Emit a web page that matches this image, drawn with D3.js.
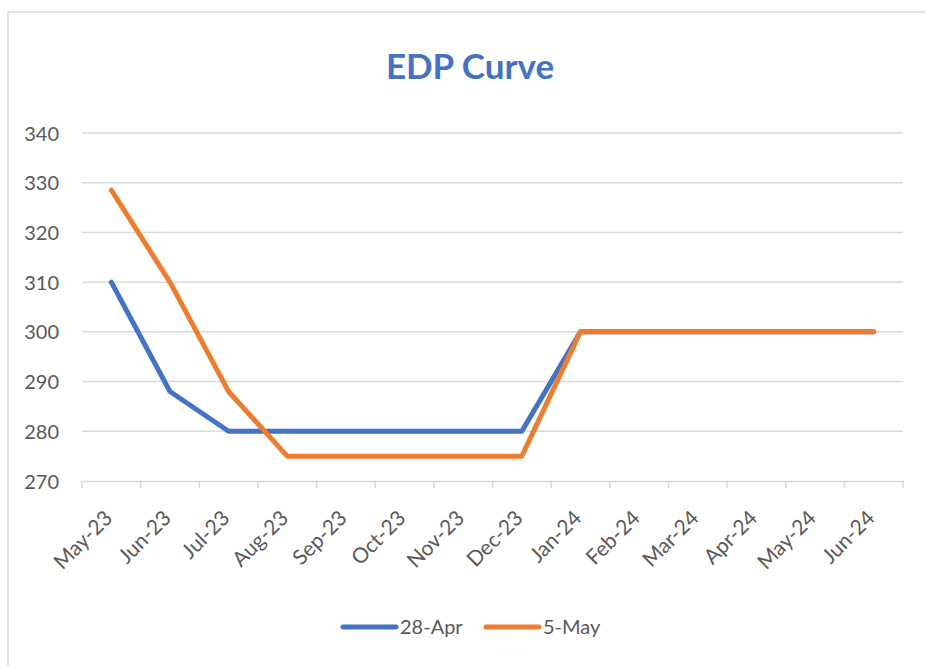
<!DOCTYPE html>
<html>
<head>
<meta charset="utf-8">
<script src="https://cdn.jsdelivr.net/npm/d3@7"></script>
<style>
  body { margin: 0; background: #fff; }
  svg { display: block; font-family: Lato, "Open Sans", sans-serif; }
  .grid line { stroke: #d9d9d9; stroke-width: 1.5; }
  .tick text { fill: #595959; font-family: Lato, "Open Sans", sans-serif; }
</style>
</head>
<body>
<div id="chart"></div>
<script>
// months on the x axis
const months = ["May-23", "Jun-23", "Jul-23", "Aug-23", "Sep-23", "Oct-23", "Nov-23",
                "Dec-23", "Jan-24", "Feb-24", "Mar-24", "Apr-24", "May-24", "Jun-24"];
// the two curves
const apr28 = [310, 288, 280, 280, 280, 280, 280, 280, 300, 300, 300, 300, 300, 300];
const may5 = [328.5, 310, 288, 275, 275, 275, 275, 275, 300, 300, 300, 300, 300, 300];
const seriesNames = ["28-Apr", "5-May"];
const seriesColors = ["#4472C4", "#ED7D31"];
const yTicks = [270, 280, 290, 300, 310, 320, 330, 340];

const width = 925, height = 666;
const margin = {top: 133, right: 22, bottom: 185, left: 82};

const svg = d3.select("#chart").append("svg")
    .attr("width", width)
    .attr("height", height);

// chart frame (cropped on right and bottom in the picture)
svg.append("rect")
    .attr("x", 8).attr("y", 12)
    .attr("width", 940).attr("height", 700)
    .attr("fill", "#fff")
    .attr("stroke", "#d9d9d9")
    .attr("stroke-width", 1.5);

let x = d3.scaleBand()
    .domain(months)
    .range([margin.left, width - margin.right]);

let y = d3.scaleLinear()
    .domain([270, 340])
    .range([height - margin.bottom, margin.top]);

// title
svg.append("text")
    .attr("x", 470).attr("y", 79)
    .attr("text-anchor", "middle")
    .attr("fill", "#4472C4")
    .style("font-size", "35px")
    .style("font-weight", "bold")
    .text("EDP Curve");

// horizontal gridlines
svg.append("g")
    .attr("class", "grid")
    .selectAll("line")
    .data(yTicks.slice(1))
    .enter().append("line")
    .attr("x1", margin.left).attr("x2", width - margin.right)
    .attr("y1", d => y(d)).attr("y2", d => y(d));

// y axis labels (no axis line)
let yAxis = svg.append("g")
    .attr("transform", `translate(${margin.left},0)`)
    .call(d3.axisLeft(y).tickValues(yTicks).tickSize(0).tickPadding(23));
yAxis.select(".domain").remove();
yAxis.selectAll("text").style("font-size", "20px").attr("dy", "0.35em");

// x axis with ticks between categories
let xAxis = svg.append("g")
    .attr("transform", `translate(0,${y(270)})`)
    .call(d3.axisBottom(x).tickSize(0));
xAxis.select(".domain")
    .attr("stroke", "#d9d9d9").attr("stroke-width", 1.5);
let bounds = months.map(m => x(m)).concat([x.range()[1]]);
xAxis.selectAll(".sep")
    .data(bounds)
    .enter().append("line")
    .attr("class", "sep")
    .attr("x1", d => d).attr("x2", d => d)
    .attr("y1", 0).attr("y2", 7)
    .attr("stroke", "#d9d9d9").attr("stroke-width", 1.5);
xAxis.selectAll(".tick text")
    .style("font-size", "21px")
    .attr("text-anchor", "end")
    .attr("dy", "0.35em")
    .attr("transform", "translate(-5,31) rotate(-45)");

// lines
let line = d3.line()
    .x((d, i) => x(months[i]) + x.bandwidth() / 2)
    .y(d => y(d));

[apr28, may5].forEach((vals, k) => {
    svg.append("path")
        .datum(vals)
        .attr("fill", "none")
        .attr("stroke", seriesColors[k])
        .attr("stroke-width", 5)
        .attr("stroke-linecap", "round")
        .attr("stroke-linejoin", "round")
        .attr("d", line);
});

// legend
let legendX = [343, 486];
seriesNames.forEach((name, k) => {
    let g = svg.append("g").attr("transform", `translate(${legendX[k]},627)`);
    g.append("line")
        .attr("x1", 0).attr("x2", 53)
        .attr("stroke", seriesColors[k])
        .attr("stroke-width", 5)
        .attr("stroke-linecap", "round");
    g.append("text")
        .attr("x", 57).attr("dy", "0.35em")
        .attr("fill", "#595959")
        .style("font-size", "20px")
        .text(name);
});
</script>
</body>
</html>
